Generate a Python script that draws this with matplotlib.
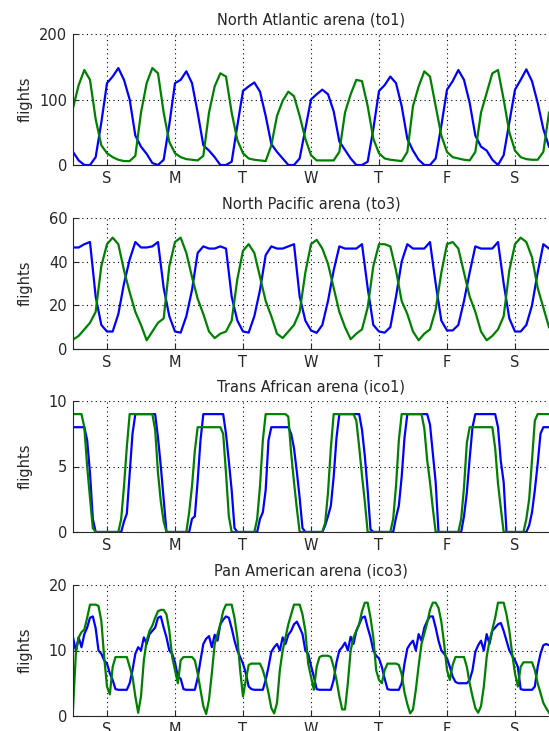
import numpy as np
import matplotlib.pyplot as plt

plt.rcParams['font.family'] = ['DejaVu Sans']

# day labels at midnight gridlines (t = 1..7 days)
day_ticks = [1, 2, 3, 4, 5, 6, 7]
day_labels = ['S', 'M', 'T', 'W', 'T', 'F', 'S']

# time axes: panels 1-2 sampled every 2 h, panels 3-4 hourly, from noon of day 0
t_2h = 0.5 + np.arange(85) / 12
t_1h = 0.5 + np.arange(169) / 24

# North Atlantic (to1), every 2 hours
to1_blue = [20, 7, 0, 0, 12, 65,
            125, 135, 148, 130, 100, 45, 28, 17, 3, 0, 8, 62,
            125, 130, 143, 125, 80, 30, 22, 12, 0, 0, 5, 60,
            113, 120, 126, 112, 75, 32, 20, 10, 0, 0, 10, 55,
            100, 108, 115, 108, 82, 36, 23, 10, 0, 0, 5, 55,
            113, 122, 135, 125, 90, 40, 22, 8, 0, 0, 10, 60,
            115, 128, 145, 130, 95, 45, 28, 22, 8, 0, 15, 65,
            115, 130, 146, 128, 95, 55, 28]
to1_green = [87, 122, 145, 130, 70, 30,
             18, 12, 8, 6, 6, 14, 80, 125, 148, 140, 80, 35,
             18, 12, 9, 8, 7, 14, 80, 120, 140, 135, 80, 38,
             18, 10, 8, 7, 6, 30, 75, 98, 112, 105, 75, 40,
             15, 7, 7, 7, 7, 20, 80, 108, 130, 128, 90, 40,
             18, 10, 8, 7, 6, 20, 90, 120, 143, 135, 90, 45,
             20, 12, 10, 8, 7, 20, 80, 110, 140, 145, 100, 50,
             22, 12, 9, 8, 8, 20, 80]

# North Pacific (to3), every 2 hours
to3_blue = [46.5, 46.5, 48, 49, 24, 11,
            8, 8, 16, 30, 41, 49, 46.5, 46.5, 47, 49, 28, 15,
            8, 7.5, 15, 27, 44, 47, 46, 46, 47, 46, 24, 13,
            8, 7.5, 15, 27, 43, 47, 46, 46, 47, 48, 24, 13,
            8.5, 7.4, 11, 22, 36, 47, 46, 46, 46, 48, 28, 11,
            8, 7.5, 10, 24, 40, 48, 46, 46, 46, 49, 30, 13,
            8.5, 8.5, 11, 22, 35, 47, 46, 46, 46, 49, 30, 14,
            8, 8, 11, 20, 35, 48, 46]
to3_green = [4.3, 6, 9, 12, 17, 38,
             48, 51, 48, 36, 26, 17, 11, 4, 8, 12, 14, 38,
             49, 51, 44, 33, 23, 16, 8, 5, 7, 8, 13, 32,
             45, 48, 44, 33, 22, 15, 7, 5, 8, 11, 17, 35,
             48, 50, 46, 39, 28, 17, 10, 4.5, 7, 9, 19, 38,
             48, 48, 47, 36, 22, 16, 8, 4, 7, 9, 18, 35,
             48, 49, 46, 35, 24, 17, 8, 4, 6, 9, 15, 36,
             48, 51, 49, 42, 28, 19, 10]

# Trans African (ico1), hourly
ico1_blue = [8, 8, 8, 8, 8, 7, 4.5, 1, 0, 0, 0, 0,
             0, 0, 0, 0, 0, 0, 0.8, 1.4, 4.5, 7.5, 9, 9, 9, 9, 9, 9, 9, 9, 7.2, 5, 2.5, 0, 0, 0,
             0, 0, 0, 0, 0, 0, 1, 1.2, 3.9, 7, 9, 9, 9, 9, 9, 9, 9, 9, 7.5, 5.4, 3.2, 0.3, 0, 0,
             0, 0, 0, 0, 0, 0, 1, 1.5, 3.2, 7, 8, 8, 8, 8, 8, 8, 8, 7.5, 6.4, 4.6, 2.6, 0.3, 0, 0,
             0, 0, 0, 0, 0, 0.5, 1.2, 2, 4.2, 7.2, 9, 9, 9, 9, 9, 9, 9, 9, 7.8, 5.8, 3.2, 0.2, 0, 0,
             0, 0, 0, 0, 0, 0, 1.1, 2, 4.2, 7.2, 9, 9, 9, 9, 9, 9, 9, 9, 8.2, 6, 3.8, 0, 0, 0,
             0, 0, 0, 0, 0, 0, 1.2, 3, 5.6, 8, 9, 9, 9, 9, 9, 9, 9, 9, 8, 5.4, 3.8, 0, 0, 0,
             0, 0, 0, 0, 0, 0.5, 1.5, 3.2, 5.2, 7.5, 8, 8, 8]
ico1_green = [9, 9, 9, 9, 8, 5, 2.6, 0.3, 0, 0, 0, 0,
              0, 0, 0, 0, 0, 1, 3.5, 6.5, 9, 9, 9, 9, 9, 9, 9, 9, 9, 7.8, 4.5, 2.3, 0.8, 0, 0, 0,
              0, 0, 0, 0, 0, 1.5, 3.5, 6.2, 8, 8, 8, 8, 8, 8, 8, 8, 8, 7.5, 4.5, 1.2, 0, 0, 0, 0,
              0, 0, 0, 0, 0, 1, 3.5, 7, 9, 9, 9, 9, 9, 9, 9, 9, 8.8, 6, 3.8, 1.8, 0, 0, 0, 0,
              0, 0, 0, 0, 0, 0.7, 3, 6.4, 9, 9, 9, 9, 9, 9, 9, 9, 8.5, 6.5, 4.3, 2.3, 0, 0, 0, 0,
              0, 0, 0, 0, 0, 1, 3.5, 7, 9, 9, 9, 9, 9, 9, 9, 9, 7.9, 5.5, 3.8, 1.8, 0, 0, 0, 0,
              0, 0, 0, 0, 0, 1, 3.4, 6.8, 8, 8, 8, 8, 8, 8, 8, 8, 8, 6.4, 3.7, 1.8, 0, 0, 0, 0,
              0, 0, 0, 0, 1, 2.5, 5.5, 8.5, 9, 9, 9, 9, 9]

# Pan American (ico3), hourly
ico3_blue = [12, 10, 12, 10.5, 12.5, 13.5, 15, 15.2, 13.4, 10, 9.5, 8.5,
             8, 6.5, 5.5, 4.1, 4, 4, 4, 4, 5, 7, 9.5, 10.5, 10, 12, 11, 12.5, 13, 13.5, 15, 15.2, 13.5, 12, 10, 9.5,
             8.2, 6, 5.7, 4.1, 4, 4, 4, 4, 5.8, 8.5, 11, 11.8, 12.2, 10.5, 12.4, 11.5, 14, 14.7, 15.2, 15, 13.4, 11.5, 10, 9,
             8, 6.5, 4.5, 4.1, 4, 4, 4, 4, 5.5, 7.5, 9.8, 10.5, 11, 10, 12, 11, 12.4, 13, 14, 14.4, 13.5, 12.5, 10, 9.5,
             7.7, 6, 4.1, 4, 4, 4, 4, 4, 5.5, 8.2, 10, 10.5, 11.2, 10, 12.1, 11, 13, 14, 15, 15.2, 13.5, 12, 10, 9.2,
             8.8, 7.5, 5.7, 4.1, 4, 4, 4, 4, 5, 8, 10.3, 11, 11.5, 10, 12.5, 11.5, 13.5, 14.5, 15.2, 15.2, 13.5, 11.5, 10, 9.5,
             8.8, 7.5, 6, 5.2, 5, 5, 5, 5, 5.5, 7, 9.8, 10.8, 11.5, 10, 12.5, 11, 13, 13.5, 14, 14.2, 13, 11.5, 10, 9.2,
             8.5, 7.5, 4.1, 4, 4, 4, 4, 4.5, 7.5, 9.5, 10.8, 11, 10.8]
ico3_green = [1, 9.5, 12, 12.8, 13.2, 15, 17, 17, 17, 16.8, 14.5, 9,
              4.5, 3.3, 7.5, 9, 9, 9, 9, 9, 7.5, 6, 3, 0.5, 3, 8.5, 11.5, 13, 13.8, 15, 16, 16.2, 16.2, 15.5, 13, 9,
              7, 5, 8.5, 9, 9, 9, 9, 8.5, 6.5, 4, 1.5, 0.3, 2.5, 6.5, 11, 12.5, 14, 16, 17, 17, 17, 15, 12, 7,
              3, 5.5, 7.8, 8, 8, 8, 8, 7, 5.5, 3.5, 1.2, 0.4, 2, 7, 10, 12, 14, 15.5, 17, 17, 17, 15.5, 13, 8,
              6, 4, 7.5, 9, 9.2, 9.2, 9.2, 9, 7.5, 5.5, 3, 1, 1, 5, 10, 12, 13, 14, 16, 17.3, 17.3, 15, 12, 7,
              5.5, 5, 7, 8, 8, 8, 8, 7.8, 6.4, 3.6, 1.8, 0.4, 1, 4, 7.7, 11, 12.6, 14.2, 16.2, 17.3, 17.3, 16.5, 14.4, 11,
              7, 5.5, 7.8, 9, 9, 9, 9, 7.5, 5, 3, 1.2, 0.5, 1.5, 4.5, 9, 11.5, 13.2, 15, 17.3, 17.3, 17.3, 15.5, 13, 9.5,
              6.5, 4.5, 7.5, 8.2, 8.2, 8.2, 8.2, 7, 5, 3.5, 2, 1.2, 0.5]


def plot_arena(ax, t, blue, green, title, ymax, yticks):
    ax.plot(t, blue, color=(0, 0, 1), linewidth=1.6)
    ax.plot(t, green, color=(0, 0.5, 0), linewidth=1.6)
    ax.set_xlim(0.5, 7.5)
    ax.set_ylim(0, ymax)
    ax.set_xticks(day_ticks)
    ax.set_xticklabels(day_labels)
    ax.set_yticks(yticks)
    ax.grid(True, color='k', linestyle=(0, (1, 3)), linewidth=0.8)
    ax.spines['top'].set_visible(False)
    ax.spines['right'].set_visible(False)
    for s in ('left', 'bottom'):
        ax.spines[s].set_color('#262626')
        ax.spines[s].set_linewidth(0.8)
    ax.tick_params(direction='in', length=4, width=0.8, colors='#262626',
                   labelsize=10.5, pad=4)
    ax.set_title(title, fontsize=10.5, pad=7, color='#262626')
    ax.set_ylabel('flights', fontsize=10.5, color='#262626')
    # same label column for all four panels
    ax.yaxis.set_label_coords(-0.085, 0.5)


if __name__ == "__main__":
    fig = plt.figure(figsize=(5.49, 7.31), dpi=100)
    W, H = 549, 731
    tops = [34, 218, 401, 585]
    ph = 131

    panels = [
        (t_2h, to1_blue, to1_green, 'North Atlantic arena (to1)', 200, [0, 100, 200]),
        (t_2h, to3_blue, to3_green, 'North Pacific arena (to3)', 60, [0, 20, 40, 60]),
        (t_1h, ico1_blue, ico1_green, 'Trans African arena (ico1)', 10, [0, 5, 10]),
        (t_1h, ico3_blue, ico3_green, 'Pan American arena (ico3)', 20, [0, 10, 20]),
    ]
    for top, p in zip(tops, panels):
        ax = fig.add_axes([73 / W, 1 - (top + ph) / H, 476 / W, ph / H])
        plot_arena(ax, *p)

    fig.savefig('out.png', dpi=100)
